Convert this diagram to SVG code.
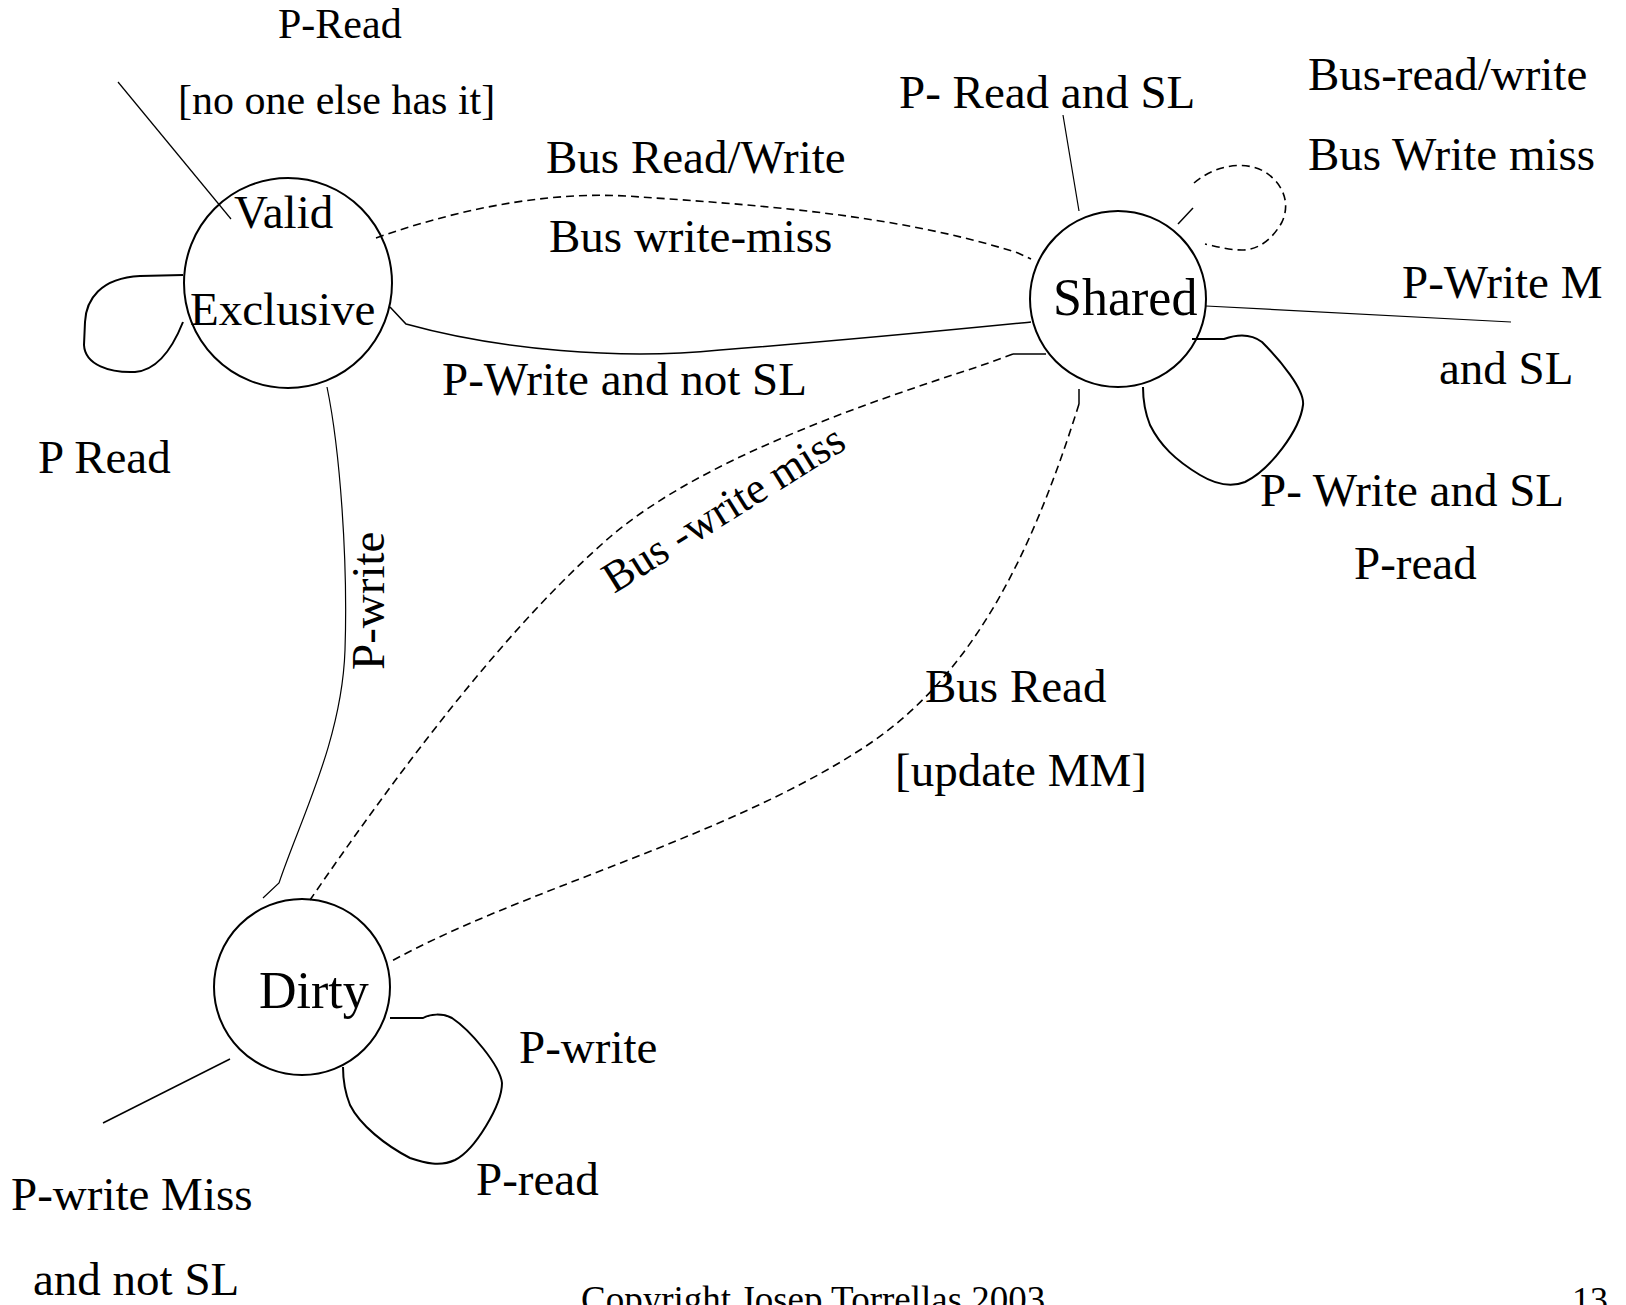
<svg xmlns="http://www.w3.org/2000/svg" width="1626" height="1305" viewBox="0 0 1626 1305">
<style>
text{font-family:"Liberation Serif","Times New Roman",serif;fill:#000}
.lbl{font-size:47px}
.sm{font-size:42px}
.st{font-size:52px}
.node{fill:none;stroke:#000;stroke-width:2}
.ln{fill:none;stroke:#000;stroke-width:1.5}
.thin{fill:none;stroke:#000;stroke-width:1.2}
.dash{fill:none;stroke:#000;stroke-width:1.6;stroke-dasharray:8 5}
.loop{fill:none;stroke:#000;stroke-width:2}
</style>
<rect width="1626" height="1305" fill="#fff"/>
<g id="connectors">
<path class="thin" d="M118,82 L231,219"/>
<path class="loop" d="M183,275 L140,276 C100,278 86,300 85,322 L84,345 C85,365 110,373 135,372 C160,370 175,342 183,322"/>
<path class="dash" d="M376,238 C470,205 560,190 640,197 C760,205 900,215 1018,253 L1031,259"/>
<path class="ln" d="M390,307 L406,324 C500,350 620,360 720,350 C850,340 950,330 1031,322"/>
<path class="ln" stroke-width="2" d="M1046,354 L1013,354"/>
<path class="dash" d="M1013,354 L980,366 C860,405 700,460 610,537 C520,615 420,740 310,900"/>
<path class="ln" d="M1079,389 L1079,404"/>
<path class="dash" d="M1079,404 C1030,560 970,680 860,750 C720,840 520,890 390,962"/>
<path class="thin" d="M327,387 C340,450 348,560 345,650 C342,740 300,820 279,883 L263,898"/>
<path class="thin" d="M1063,115 L1079,211"/>
<path class="ln" d="M1178,224 L1193,208"/>
<path class="dash" d="M1194,183 C1215,165 1245,160 1265,172 C1285,185 1290,205 1282,222 C1272,240 1258,250 1242,250 C1228,250 1215,246 1205,244"/>
<path class="thin" d="M1206,306 L1511,322"/>
<path class="loop" d="M1192,339 L1224,339 C1235,335 1250,333 1262,342 C1280,360 1305,390 1303,405 C1300,430 1270,470 1245,482 C1230,488 1215,484 1200,475 C1175,460 1160,445 1150,425 C1144,410 1143,395 1143,387"/>
<path class="ln" d="M230,1059 L103,1123"/>
<path class="loop" d="M390,1018 L423,1018 C430,1014 442,1013 452,1018 C470,1030 500,1065 502,1083 C502,1105 475,1150 455,1160 C440,1167 425,1163 410,1158 C385,1145 360,1125 350,1105 C344,1090 343,1075 343,1067"/>
</g>
<g id="node-valid-exclusive">
<ellipse class="node" cx="288" cy="283" rx="104" ry="105"/>
<text class="lbl" x="234" y="228">Valid</text>
<text class="lbl" x="190" y="325">Exclusive</text>
</g>
<g id="node-shared">
<ellipse class="node" cx="1118" cy="299" rx="88" ry="88"/>
<text class="st" x="1053" y="315">Shared</text>
</g>
<g id="node-dirty">
<ellipse class="node" cx="302" cy="987" rx="88" ry="88"/>
<text class="st" x="259" y="1008">Dirty</text>
</g>
<g id="labels">
<text class="sm" x="278" y="38">P-Read</text>
<text class="sm" x="178" y="114">[no one else has it]</text>
<text class="lbl" x="546" y="173">Bus Read/Write</text>
<text class="lbl" x="549" y="252">Bus write-miss</text>
<text class="lbl" x="442" y="395">P-Write and not SL</text>
<text class="lbl" x="38" y="473">P Read</text>
<text class="lbl" x="899" y="108">P- Read and SL</text>
<text class="lbl" x="1308" y="90">Bus-read/write</text>
<text class="lbl" x="1308" y="170">Bus Write miss</text>
<text class="lbl" x="1402" y="298">P-Write M</text>
<text class="lbl" x="1439" y="384">and SL</text>
<text class="lbl" x="1260" y="506">P- Write and SL</text>
<text class="lbl" x="1354" y="579">P-read</text>
<text font-size="44" transform="translate(614,594) rotate(-32)">Bus -write miss</text>
<text class="lbl" transform="translate(384,670) rotate(-90)">P-write</text>
<text class="lbl" x="925" y="702">Bus Read</text>
<text class="lbl" x="895" y="786">[update MM]</text>
<text class="lbl" x="519" y="1063">P-write</text>
<text class="lbl" x="476" y="1195">P-read</text>
<text class="lbl" x="11" y="1210">P-write Miss</text>
<text class="lbl" x="33" y="1295">and not SL</text>
<text x="581" y="1312" font-size="37">Copyright Josep Torrellas 2003</text>
<text x="1572" y="1312" font-size="36">13</text>
</g>
</svg>
